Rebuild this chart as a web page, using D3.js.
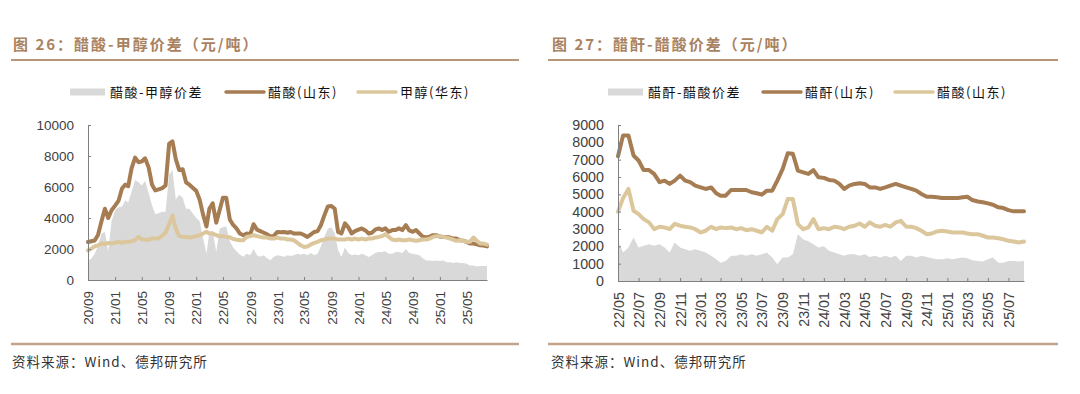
<!DOCTYPE html>
<html><head><meta charset="utf-8">
<script src="https://cdn.jsdelivr.net/npm/d3@7"></script>
<style>body{margin:0;background:#fff}svg{display:block}</style>
</head><body><svg id="c" width="1080" height="394"></svg>
<script>
// ---------- Data: chart 26 (half-month samples from 2020-09-01) ----------
const leftStart = '2020-09-01';
const leftAcetic = [2450,2500,2550,2900,3800,4600,4000,4500,4800,5100,
5900,6150,6050,7200,7900,7600,7650,7850,7250,6150,
5780,5850,5930,6100,8800,8950,7800,7100,7150,6300,
6150,5950,5750,5200,4200,3450,4600,4950,3700,4500,
5300,5300,3900,3550,3330,3000,2890,3000,2950,3600,
3250,3150,3050,2950,2800,2850,3100,3080,3100,3050,
3100,3000,3000,3000,2900,2780,2950,3100,3150,3550,
4200,4750,4780,4600,3100,3000,3650,3400,3000,3150,
3250,3330,3200,3000,3050,3250,3330,3220,3330,3110,
3220,3220,3330,3220,3540,3200,3110,3220,3000,2800,
2740,2800,2890,2890,2800,2780,2780,2740,2670,2670,
2570,2540,2460,2350,2350,2300,2240,2220,2170];
const leftMethanol = [1910,2020,2170,2240,2350,2330,2390,2360,2400,2460,
2400,2460,2460,2500,2570,2780,2630,2600,2600,2670,
2670,2700,2850,3050,3600,4150,3300,2850,2780,2780,
2740,2780,2830,2890,3000,3110,3000,3000,2890,2830,
2830,2780,2760,2650,2600,2570,2570,2780,2830,2890,
2830,2780,2740,2740,2670,2670,2740,2670,2670,2610,
2610,2570,2400,2240,2130,2160,2300,2390,2460,2570,
2610,2670,2670,2670,2610,2610,2610,2670,2610,2670,
2610,2670,2610,2670,2670,2740,2780,2830,2960,2780,
2610,2570,2610,2570,2570,2610,2570,2530,2570,2610,
2610,2670,2780,2830,2830,2780,2740,2670,2610,2530,
2570,2530,2460,2460,2740,2530,2350,2350,2280];
const leftSpread = [1260,1370,1700,2200,3000,3100,1850,3800,4500,4700,
4750,5150,5000,5700,6450,6300,6100,6400,5600,4800,
4250,4300,4400,4400,6800,7100,5200,5500,5300,4600,
4600,4300,4000,3800,2700,1700,3100,3200,1800,3300,
3400,3450,2500,2100,1850,1650,1500,1700,1600,2000,
1600,1500,1600,1400,1280,1500,1600,1550,1500,1600,
1550,1600,1700,1650,1700,1600,1750,1600,1700,2200,
2800,3300,3400,3000,1950,1480,2100,1750,1600,1650,
1600,1700,1600,1480,1600,1750,1800,1800,1850,1700,
1700,1800,1800,1750,2000,1750,1700,1650,1600,1400,
1260,1260,1220,1260,1220,1260,1150,1150,1100,1150,
1100,1100,1050,930,930,870,900,900,900];
const leftXTicks = ['20/09','21/01','21/05','21/09','22/01','22/05','22/09','23/01','23/05','23/09','24/01','24/05','24/09','25/01','25/05'];
const leftYTicks = [0,2000,4000,6000,8000,10000];

// ---------- Data: chart 27 (half-month samples from 2022-05-01) ----------
const rightStart = '2022-05-01';
const rightAnhydride = [7200,8400,8400,7240,6950,6400,6400,6180,5700,5790,
5600,5790,6080,5790,5700,5500,5400,5310,5400,5060,
4920,4920,5250,5250,5250,5250,5120,5060,4980,5210,
5210,5790,6470,7370,7340,6370,6270,6180,6400,5980,
5950,5830,5790,5600,5310,5500,5600,5640,5600,5400,
5400,5310,5400,5500,5600,5500,5400,5310,5210,5020,
4860,4860,4830,4790,4790,4790,4790,4830,4860,4670,
4590,4540,4480,4400,4250,4210,4090,4020,4020,4020];
const rightAcetic = [4000,4790,5310,4050,3860,3570,3380,2990,3130,3090,
2990,3300,3190,3130,3090,2990,2800,2900,3130,2990,
3090,3050,3090,2990,3050,2930,2990,2900,2800,3130,
2900,3570,3860,4730,4730,3280,2990,3090,3570,2990,
3050,2990,3130,3090,2990,3130,3190,3320,3130,3380,
3190,3130,3240,3130,3380,3470,3130,3130,3050,2900,
2700,2740,2860,2900,2860,2800,2800,2800,2740,2700,
2700,2610,2510,2510,2470,2410,2320,2280,2220,2280];
const rightSpread = [2300,1640,1930,2510,1930,2030,2120,2030,2120,1930,
1640,2220,1930,1830,1740,1830,1740,1640,1450,1250,
1060,1160,1450,1450,1540,1450,1540,1450,1540,1640,
1350,970,1350,1350,1540,2700,2400,2300,2120,1930,
2000,1750,1640,1540,1450,1540,1540,1450,1540,1390,
1450,1350,1450,1350,1450,1160,1450,1450,1350,1450,
1390,1310,1250,1250,1310,1250,1310,1350,1310,1200,
1160,1120,1250,1350,1060,1060,1160,1160,1120,1160];
const rightXTicks = ['22/05','22/07','22/09','22/11','23/01','23/03','23/05','23/07','23/09','23/11','24/01','24/03','24/05','24/07','24/09','24/11','25/01','25/03','25/05','25/07'];
const rightYTicks = [0,1000,2000,3000,4000,5000,6000,7000,8000,9000];

const COLORS = {spread:'#d9d9d9', brown:'#a67c52', tan:'#dcc79d', title:'#a9825f', rule:'#b8967a'};
const CJK = '"Noto Sans CJK SC","Noto Sans",sans-serif';
const LAT = '"Liberation Sans",Arial,sans-serif';

const svg = d3.select('#c');
const parseYMD = d3.timeParse('%Y-%m-%d');
const parseTick = d3.timeParse('%y/%m');
function halfMonthDates(start, n){
  const s = parseYMD(start);
  return d3.range(n).map(i => d3.timeDay.offset(d3.timeMonth.offset(s, Math.floor(i/2)), i%2 ? 15 : 0));
}

function chart(cfg){
  const g = svg.append('g');
  // title + rule
  g.append('text').attr('x', cfg.titleX).attr('y', 50).text(cfg.title)
    .attr('font-family', CJK).attr('font-weight', 'bold').attr('font-size', 15)
    .attr('letter-spacing', 2).attr('fill', COLORS.title);
  g.append('line').attr('x1', cfg.ruleX0).attr('x2', cfg.ruleX1).attr('y1', 60).attr('y2', 60)
    .attr('stroke', COLORS.rule).attr('stroke-width', 2);
  // legend
  const ly = 92;
  const leg = g.append('g').attr('font-family', CJK).attr('font-size', 13).attr('letter-spacing', 1.5).attr('fill', '#111');
  leg.append('rect').attr('x', cfg.leg[0]).attr('y', ly-3.5).attr('width', 35).attr('height', 7).attr('fill', COLORS.spread);
  leg.append('text').attr('x', cfg.leg[0]+40).attr('y', ly).attr('dy', '0.35em').text(cfg.names[0]);
  leg.append('line').attr('x1', cfg.leg[1]).attr('x2', cfg.leg[1]+38).attr('y1', ly).attr('y2', ly)
    .attr('stroke', COLORS.brown).attr('stroke-width', 3.5).attr('stroke-linecap', 'round');
  leg.append('text').attr('x', cfg.leg[1]+42).attr('y', ly).attr('dy', '0.35em').text(cfg.names[1]);
  leg.append('line').attr('x1', cfg.leg[2]).attr('x2', cfg.leg[2]+38).attr('y1', ly).attr('y2', ly)
    .attr('stroke', COLORS.tan).attr('stroke-width', 3.5).attr('stroke-linecap', 'round');
  leg.append('text').attr('x', cfg.leg[2]+42).attr('y', ly).attr('dy', '0.35em').text(cfg.names[2]);

  // scales
  const dates = halfMonthDates(cfg.start, cfg.spread.length);
  const x = d3.scaleTime().domain([dates[0], dates[dates.length-1]]).range([cfg.x0, cfg.x1]);
  const y = d3.scaleLinear().domain([0, d3.max(cfg.yTicks)]).range([cfg.yB, cfg.yT]);

  const area = d3.area().x((d,i)=>x(dates[i])).y0(y(0)).y1(d=>y(d));
  g.append('path').datum(cfg.spread).attr('d', area).attr('fill', COLORS.spread);
  const line = d3.line().x((d,i)=>x(dates[i])).y(d=>y(d));
  g.append('path').datum(cfg.s1).attr('d', line).attr('fill','none').attr('stroke', COLORS.brown)
    .attr('stroke-width', 4).attr('stroke-linejoin','round').attr('stroke-linecap','round');
  g.append('path').datum(cfg.s2).attr('d', line).attr('fill','none').attr('stroke', COLORS.tan)
    .attr('stroke-width', 4).attr('stroke-linejoin','round').attr('stroke-linecap','round');

  // y axis
  const ya = g.append('g').attr('transform', `translate(${cfg.x0},0)`)
    .call(d3.axisLeft(y).tickValues(cfg.yTicks).tickSizeInner(-3).tickSizeOuter(0).tickPadding(14).tickFormat(d3.format('d')));
  // x axis
  const tickDates = cfg.xTicks.map(parseTick);
  const xa = g.append('g').attr('transform', `translate(0,${cfg.yB})`)
    .call(d3.axisBottom(x).tickValues(tickDates).tickSizeInner(-3).tickSizeOuter(0)
      .tickFormat((d,i)=>cfg.xTicks[i]));
  xa.selectAll('text').attr('transform','rotate(-90)').attr('text-anchor','end')
    .attr('x', -11).attr('y', 0).attr('dy','0.35em');
  [ya, xa].forEach(a => {
    a.selectAll('path.domain').attr('stroke', '#7f7f7f');
    a.selectAll('.tick line').attr('stroke', '#7f7f7f');
    a.selectAll('text').attr('font-family', LAT).attr('font-size', cfg.fs).attr('fill', '#404040');
  });

  // source rule + text
  g.append('line').attr('x1', cfg.ruleX0).attr('x2', cfg.ruleX1).attr('y1', 344).attr('y2', 344)
    .attr('stroke', '#c3a58d').attr('stroke-width', 2.5);
  g.append('text').attr('x', cfg.titleX-1).attr('y', 367).text('资料来源：Wind、德邦研究所')
    .attr('font-family', CJK).attr('font-size', 13.5).attr('letter-spacing', 1).attr('fill', '#333');
}

chart({
  title:'图 26：醋酸-甲醇价差（元/吨）', titleX:13, ruleX0:11, ruleX1:519,
  leg:[70,226,358], names:['醋酸-甲醇价差','醋酸(山东)','甲醇(华东)'],
  start:leftStart, spread:leftSpread, s1:leftAcetic, s2:leftMethanol,
  x0:88, x1:487, yB:280, yT:125, yTicks:leftYTicks, xTicks:leftXTicks, fs:13.5
});
chart({
  title:'图 27：醋酐-醋酸价差（元/吨）', titleX:552, ruleX0:548, ruleX1:1058,
  leg:[608,763,895], names:['醋酐-醋酸价差','醋酐(山东)','醋酸(山东)'],
  start:rightStart, spread:rightSpread, s1:rightAnhydride, s2:rightAcetic,
  x0:618, x1:1024, yB:281, yT:125, yTicks:rightYTicks, xTicks:rightXTicks, fs:14.3
});
</script></body></html>
